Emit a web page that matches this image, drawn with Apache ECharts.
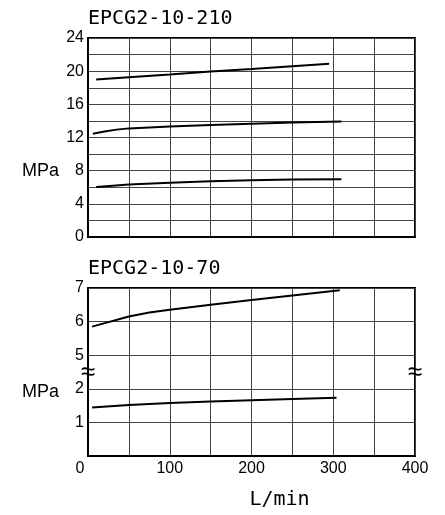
<!DOCTYPE html>
<html>
<head>
<meta charset="utf-8">
<script src="https://cdn.jsdelivr.net/npm/echarts@6/dist/echarts.min.js"></script>
<style>
html,body{margin:0;padding:0;background:#fff;}
#main{width:445px;height:515px;}
</style>
</head>
<body>
<div id="main"></div>
<script>
// ---- Data ----
const titleTop = 'EPCG2-10-210';
const titleBottom = 'EPCG2-10-70';
const xLabelName = 'L/min';
const yLabelName = 'MPa';

// Top chart (EPCG2-10-210)
const flow210High = [10, 50, 100, 150, 200, 250, 295];
const mpa210High  = [19.0, 19.27, 19.6, 19.95, 20.27, 20.6, 20.9];
const flow210Mid  = [6, 20, 35, 50, 100, 150, 200, 250, 310];
const mpa210Mid   = [12.45, 12.72, 12.95, 13.1, 13.32, 13.5, 13.66, 13.8, 13.92];
const flow210Low  = [10, 50, 100, 150, 200, 250, 310];
const mpa210Low   = [6.04, 6.34, 6.55, 6.72, 6.83, 6.92, 6.96];

// Bottom chart (EPCG2-10-70)
const flow70High = [5, 50, 75, 100, 150, 200, 250, 308];
const mpa70High  = [5.85, 6.15, 6.27, 6.35, 6.5, 6.64, 6.78, 6.93];
const flow70Low  = [5, 50, 100, 150, 200, 250, 304];
const mpa70Low   = [1.44, 1.52, 1.58, 1.62, 1.66, 1.7, 1.73];

// Tick values
const topYTicks = [0, 4, 8, 12, 16, 20, 24];
const bottomYTicks = [0, 1, 2, 5, 6, 7];
const xTicks = [0, 100, 200, 300, 400];

// Broken bottom axis: values between breakLow and breakHigh are skipped
const breakLow = 2, breakHigh = 5;
const toAxis = v => v > breakLow ? v - (breakHigh - breakLow - 1) : v;
const fromAxis = p => p > breakLow ? p + (breakHigh - breakLow - 1) : p;

const pair = (xs, ys, f) => xs.map((x, i) => [x, f ? f(ys[i]) : ys[i]]);

const labelFont = 'Liberation Sans, Arial, sans-serif';
const monoFont = 'DejaVu Sans Mono, monospace';
const gridLine = { show: true, lineStyle: { color: '#444', width: 1 } };
const axisLine = { show: true, onZero: false, lineStyle: { color: '#000', width: 2 } };

const lineSeries = (data, xi, yi, extra) => Object.assign({
  type: 'line', xAxisIndex: xi, yAxisIndex: yi, data: data,
  showSymbol: false, symbol: 'none', smooth: false,
  lineStyle: { color: '#000', width: 2 }, silent: true, z: 5
}, extra || {});

const chart = echarts.init(document.getElementById('main'), null, { renderer: 'canvas' });

chart.setOption({
  animation: false,
  backgroundColor: '#fff',
  title: [
    { text: titleTop, left: 88, top: 9, padding: 0,
      textStyle: { fontFamily: monoFont, fontSize: 20, fontWeight: 'normal', color: '#000' } },
    { text: titleBottom, left: 88, top: 259, padding: 0,
      textStyle: { fontFamily: monoFont, fontSize: 20, fontWeight: 'normal', color: '#000' } }
  ],
  grid: [
    { left: 88, right: 30, top: 38, height: 199, show: true, borderColor: '#000', borderWidth: 2, backgroundColor: 'transparent' },
    { left: 88, right: 30, top: 288, height: 168, show: true, borderColor: '#000', borderWidth: 2, backgroundColor: 'transparent' }
  ],
  xAxis: [
    { type: 'value', gridIndex: 0, min: 0, max: 400, interval: 50,
      axisLine: axisLine, axisTick: { show: false }, axisLabel: { show: false }, splitLine: gridLine },
    { type: 'value', gridIndex: 1, min: 0, max: 400, interval: 50,
      axisLine: axisLine, axisTick: { show: false }, splitLine: gridLine,
      axisLabel: { show: true, margin: 5, color: '#000', fontFamily: labelFont, fontSize: 16,
        formatter: v => xTicks.indexOf(v) < 0 ? '' : (v === 0 ? '{z|0}' : String(v)),
        rich: { z: { fontFamily: labelFont, fontSize: 16, color: '#000', padding: [0, 16, 0, 0] } } },
      name: xLabelName, nameLocation: 'middle', nameGap: 34,
      nameTextStyle: { fontFamily: monoFont, fontSize: 20, color: '#000', padding: [0, 0, 0, 56] } }
  ],
  yAxis: [
    { type: 'value', gridIndex: 0, min: 0, max: 24, interval: 2,
      axisLine: axisLine, axisTick: { show: false }, splitLine: gridLine,
      axisLabel: { show: true, margin: 4, color: '#000', fontFamily: labelFont, fontSize: 16,
        formatter: v => topYTicks.indexOf(v) < 0 ? '' : (v === 8 ? '{u|' + yLabelName + '}' + v : String(v)),
        rich: { u: { fontFamily: labelFont, fontSize: 18, color: '#000', padding: [0, 16, 0, 0] } } } },
    { type: 'value', gridIndex: 1, min: 0, max: toAxis(7), interval: 1,
      axisLine: axisLine, axisTick: { show: false }, splitLine: gridLine,
      axisLabel: { show: true, margin: 4, color: '#000', fontFamily: labelFont, fontSize: 16,
        formatter: p => {
          const v = fromAxis(p);
          if (v === 0 || bottomYTicks.indexOf(v) < 0) return '';
          return v === 2 ? '{u|' + yLabelName + '}' + v : String(v);
        },
        rich: { u: { fontFamily: labelFont, fontSize: 18, color: '#000', padding: [6, 16, 0, 0] } } } }
  ],
  series: [
    lineSeries(pair(flow210High, mpa210High), 0, 0),
    lineSeries(pair(flow210Mid, mpa210Mid), 0, 0),
    lineSeries(pair(flow210Low, mpa210Low), 0, 0),
    lineSeries(pair(flow70High, mpa70High, toAxis), 1, 1, {
      markPoint: {
        silent: true, symbol: 'circle', symbolSize: 1,
        itemStyle: { color: 'rgba(0,0,0,0)' },
        label: { show: true, position: 'inside', formatter: '≈', fontSize: 26,
          fontFamily: labelFont, color: '#000', offset: [0, 1] },
        data: [
          { coord: [0, (breakLow + 0.5)] },
          { coord: [400, (breakLow + 0.5)] }
        ]
      }
    }),
    lineSeries(pair(flow70Low, mpa70Low, toAxis), 1, 1)
  ]
});
</script>
</body>
</html>
